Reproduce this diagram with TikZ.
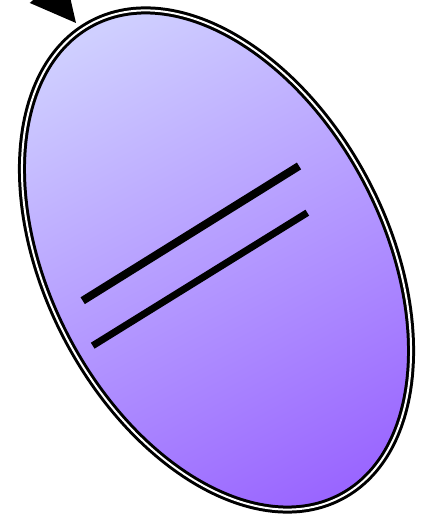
\documentclass[tikz,border=0pt]{standalone}
\usetikzlibrary{shapes.geometric,arrows.meta}
\definecolor{lightlav}{HTML}{CFCFFF}
\definecolor{deeppurple}{HTML}{9A66FF}
\tikzset{
  statebox/.style={ellipse, draw=black, line width=3pt, double=white, double distance=2pt,
    top color=lightlav, bottom color=deeppurple, shading angle=27.7, inner sep=0pt},
  bar/.style={line width=#1, line cap=butt, black},
  pointer/.style={-{Triangle[length=45pt,width=45pt]}, line width=2pt, black}
}
\begin{document}
\begin{tikzpicture}[x=1pt,y=1pt]
\useasboundingbox (0,0) rectangle (423,518);
\clip (0,0) rectangle (423,518);
\node[statebox, minimum width=338pt, minimum height=535pt, rotate=27.7] (ell) at (216.5,258) {};
\coordinate (a1) at (82.7,217.3);
\coordinate (b1) at (299,352);
\coordinate (a2) at (92.7,172.3);
\coordinate (b2) at (307.3,305.3);
\draw[bar=8pt] (a1) -- (b1);
\draw[bar=7pt] (a2) -- (b2);
\coordinate (tip) at (76,495);
\coordinate (src) at (12,572);
\draw[pointer] (src) -- (tip);
\end{tikzpicture}
\end{document}
